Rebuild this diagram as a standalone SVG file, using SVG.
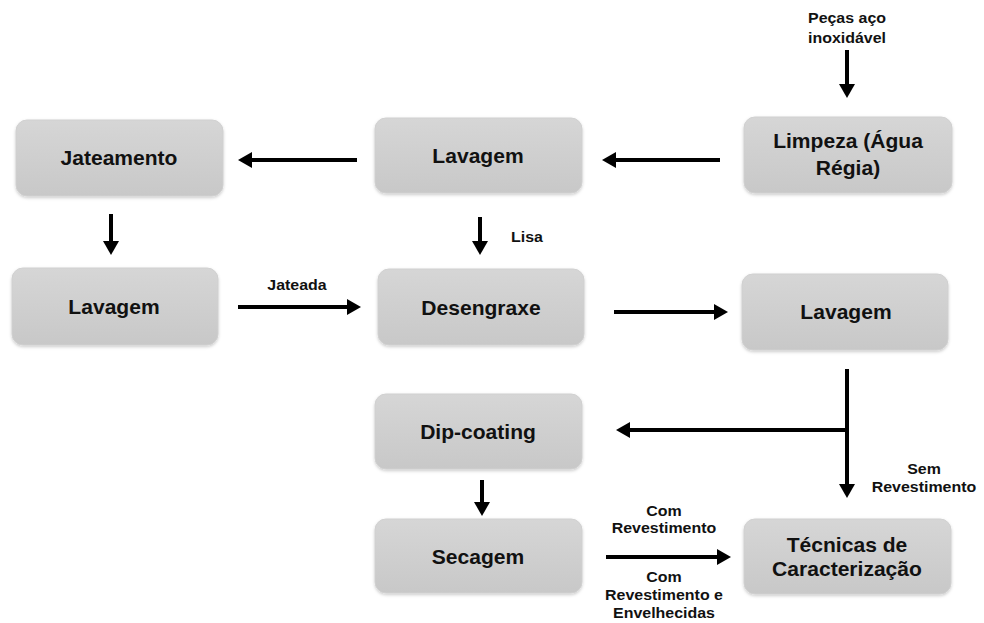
<svg xmlns="http://www.w3.org/2000/svg" width="984" height="623" viewBox="0 0 984 623">
<defs>
<linearGradient id="g" x1="0" y1="0" x2="0" y2="1">
<stop offset="0" stop-color="#d6d6d6"/>
<stop offset="1" stop-color="#c8c8c8"/>
</linearGradient>
<filter id="sh" x="-10%" y="-10%" width="120%" height="130%">
<feDropShadow dx="0" dy="1.5" stdDeviation="1.5" flood-color="#000" flood-opacity="0.2"/>
</filter>
<marker id="ah" markerWidth="4" markerHeight="4" refX="0.5" refY="2" orient="auto" markerUnits="strokeWidth">
<path d="M0,0 L3.5,2 L0,4 Z" fill="#000"/>
</marker>
</defs>
<style>
.box{fill:url(#g);stroke:#d0d0d0;stroke-width:1;filter:url(#sh)}
.nt{font-family:"Liberation Sans",Arial,sans-serif;font-weight:bold;font-size:19.5px;fill:#111;text-anchor:middle}
.lt{font-family:"Liberation Sans",Arial,sans-serif;font-weight:bold;font-size:14.5px;fill:#111;text-anchor:middle}
.c{stroke:#000;stroke-width:4;fill:none}
.ca{stroke:#000;stroke-width:4;fill:none;marker-end:url(#ah)}
</style>
<rect width="984" height="623" fill="#fff"/>
<g id="jateamento"><rect class="box" x="16" y="120" width="207" height="76" rx="11"/><text class="nt" transform="translate(119,165) scale(1.08,1)">Jateamento</text></g>
<g id="lavagem1"><rect class="box" x="375" y="118" width="207" height="75" rx="11"/><text class="nt" transform="translate(478,163) scale(1.08,1)">Lavagem</text></g>
<g id="limpeza"><rect class="box" x="744" y="117" width="208" height="76" rx="11"/><text class="nt" transform="translate(848,148) scale(1.08,1)">Limpeza (Água</text><text class="nt" transform="translate(848,175) scale(1.08,1)">Régia)</text></g>
<g id="lavagem2"><rect class="box" x="12" y="268" width="206" height="77" rx="11"/><text class="nt" transform="translate(114,314) scale(1.08,1)">Lavagem</text></g>
<g id="desengraxe"><rect class="box" x="378" y="269" width="206" height="76" rx="11"/><text class="nt" transform="translate(481,315) scale(1.08,1)">Desengraxe</text></g>
<g id="lavagem3"><rect class="box" x="742" y="274" width="206" height="76" rx="11"/><text class="nt" transform="translate(846,319) scale(1.08,1)">Lavagem</text></g>
<g id="dipcoating"><rect class="box" x="375" y="394" width="207" height="75" rx="11"/><text class="nt" transform="translate(478,439) scale(1.08,1)">Dip-coating</text></g>
<g id="secagem"><rect class="box" x="375" y="519" width="207" height="74" rx="11"/><text class="nt" transform="translate(478,564) scale(1.08,1)">Secagem</text></g>
<g id="tecnicas"><rect class="box" x="744" y="519" width="207" height="75" rx="11"/><text class="nt" transform="translate(847,552) scale(1.08,1)">Técnicas de</text><text class="nt" transform="translate(847,576) scale(1.08,1)">Caracterização</text></g>
<g id="connectors">
<line class="ca" x1="847" y1="50" x2="847" y2="86"/>
<line class="ca" x1="720" y1="160" x2="614" y2="160"/>
<line class="ca" x1="357" y1="160" x2="250" y2="160"/>
<line class="ca" x1="111" y1="214" x2="111" y2="243"/>
<line class="ca" x1="480" y1="217" x2="480" y2="243"/>
<line class="ca" x1="238" y1="307" x2="349" y2="307"/>
<line class="ca" x1="614" y1="312" x2="716" y2="312"/>
<line class="ca" x1="847" y1="369" x2="847" y2="486"/>
<line class="ca" x1="849" y1="430" x2="628" y2="430"/>
<line class="ca" x1="482" y1="480" x2="482" y2="504"/>
<line class="ca" x1="606" y1="557" x2="719" y2="557"/>
</g>
<g id="labels">
<text class="lt" transform="translate(847,23) scale(1.1,1)">Peças aço</text>
<text class="lt" transform="translate(847,43) scale(1.1,1)">inoxidável</text>
<text class="lt" transform="translate(527,242) scale(1.1,1)">Lisa</text>
<text class="lt" transform="translate(297,290) scale(1.1,1)">Jateada</text>
<text class="lt" transform="translate(924,474) scale(1.1,1)">Sem</text>
<text class="lt" transform="translate(924,492) scale(1.1,1)">Revestimento</text>
<text class="lt" transform="translate(664,516) scale(1.1,1)">Com</text>
<text class="lt" transform="translate(664,533) scale(1.1,1)">Revestimento</text>
<text class="lt" transform="translate(664,582) scale(1.1,1)">Com</text>
<text class="lt" transform="translate(664,600) scale(1.1,1)">Revestimento e</text>
<text class="lt" transform="translate(664,618) scale(1.1,1)">Envelhecidas</text>
</g>
</svg>
